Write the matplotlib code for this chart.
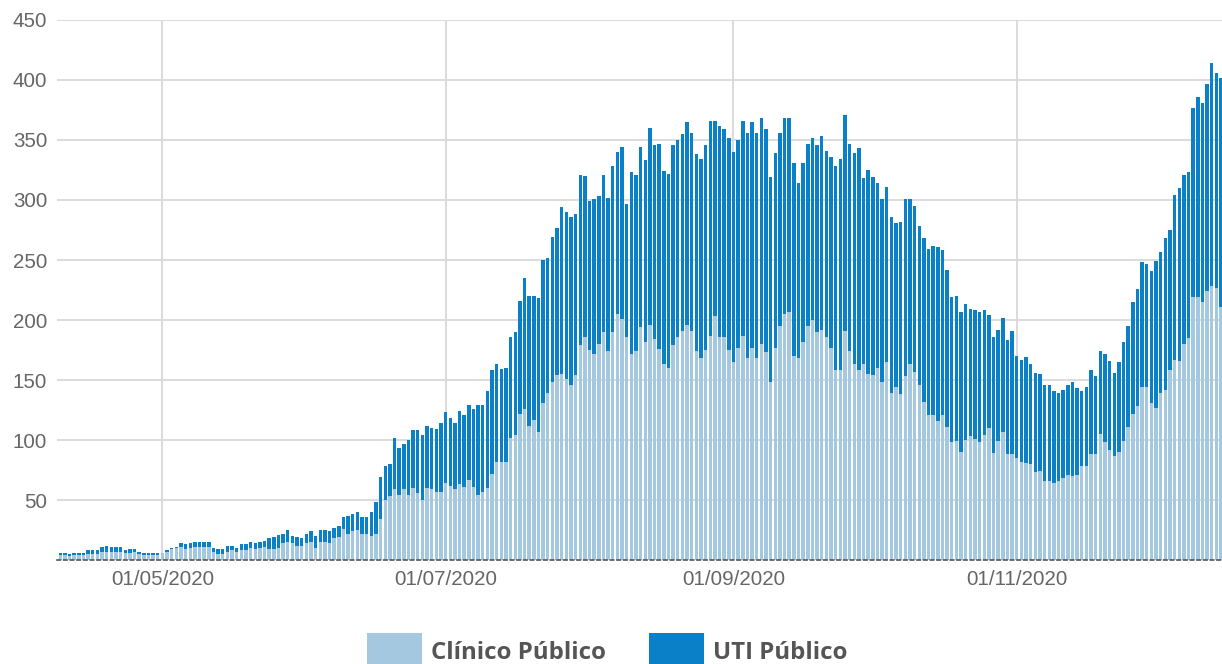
import matplotlib
matplotlib.use('Agg')
import matplotlib.pyplot as plt
import matplotlib.dates as mdates
import pandas as pd

# dias: 09/04/2020 a 15/12/2020
datas = pd.date_range('2020-04-09', '2020-12-15', freq='D')

clinico = [
    4, 4, 3, 4, 4, 4, 5, 5, 5, 7, 7, 7, 7, 7, 6, 6, 7, 5, 4, 4,
    4, 4, 6, 7, 9, 10, 11, 9, 10, 11, 11, 11, 11, 7, 5, 5, 7, 8, 7, 8,
    8, 10, 9, 10, 11, 9, 9, 10, 14, 15, 14, 12, 12, 14, 15, 10, 15, 15, 14, 18,
    19, 26, 22, 24, 25, 22, 22, 20, 22, 34, 50, 53, 59, 54, 59, 54, 60, 56, 50, 60,
    59, 57, 57, 64, 62, 59, 63, 61, 67, 61, 54, 57, 60, 72, 82, 82, 82, 102, 104, 122,
    126, 112, 117, 107, 131, 139, 148, 154, 155, 151, 146, 154, 179, 186, 175, 172, 180, 190, 174, 190,
    205, 201, 186, 172, 174, 194, 182, 196, 184, 176, 163, 160, 179, 186, 191, 196, 191, 174, 168, 175,
    187, 203, 186, 186, 175, 165, 177, 187, 168, 177, 168, 180, 173, 148, 177, 195, 205, 207, 170, 168,
    182, 195, 200, 190, 192, 186, 177, 158, 158, 191, 174, 163, 158, 163, 155, 154, 160, 148, 165, 139,
    144, 138, 153, 163, 157, 146, 132, 121, 121, 116, 121, 111, 98, 99, 90, 100, 103, 101, 98, 104,
    110, 89, 99, 107, 88, 88, 85, 82, 81, 80, 73, 74, 66, 66, 64, 66, 68, 71, 70, 71,
    78, 78, 88, 88, 105, 98, 92, 87, 90, 99, 111, 122, 128, 144, 144, 131, 127, 139, 142, 158,
    167, 166, 180, 185, 219, 219, 215, 224, 228, 227, 211,
]

uti = [
    2, 2, 2, 2, 2, 2, 3, 3, 3, 4, 5, 4, 4, 4, 2, 3, 2, 2, 2, 2,
    2, 2, 0, 1, 1, 1, 3, 4, 4, 4, 4, 4, 4, 3, 4, 4, 5, 4, 3, 5,
    5, 5, 5, 5, 5, 9, 10, 11, 8, 10, 6, 7, 6, 8, 9, 10, 10, 10, 10, 9,
    9, 10, 15, 14, 15, 14, 14, 20, 26, 35, 28, 27, 43, 39, 38, 46, 48, 52, 54, 52,
    51, 52, 57, 59, 56, 55, 61, 60, 62, 65, 75, 72, 81, 86, 81, 77, 78, 84, 86, 94,
    109, 108, 103, 111, 119, 113, 121, 123, 139, 139, 140, 134, 142, 134, 124, 129, 123, 131, 128, 138,
    135, 143, 111, 151, 147, 150, 151, 164, 162, 171, 161, 162, 167, 164, 164, 169, 165, 164, 166, 171,
    179, 163, 176, 173, 177, 175, 173, 179, 188, 188, 188, 188, 186, 171, 162, 161, 163, 161, 161, 146,
    149, 152, 152, 156, 161, 155, 159, 170, 176, 180, 173, 176, 185, 155, 170, 165, 154, 153, 146, 147,
    137, 144, 148, 138, 138, 132, 136, 138, 141, 145, 137, 131, 121, 121, 117, 113, 106, 107, 109, 104,
    94, 97, 93, 95, 95, 103, 85, 85, 88, 83, 83, 81, 80, 80, 77, 73, 74, 75, 78, 72,
    63, 66, 70, 65, 69, 74, 74, 69, 75, 83, 84, 93, 98, 104, 103, 110, 122, 118, 126, 117,
    137, 144, 141, 138, 158, 167, 166, 173, 186, 179, 191,
]

cor_clinico = '#a3c8e0'
cor_uti = '#0a80c9'

fig = plt.figure(figsize=(12.22, 6.64), dpi=100)
ax = fig.add_axes([0.0466, 0.1566, 0.9534, 0.8133])

ax.bar(datas, clinico, width=0.74, color=cor_clinico, label='Clínico Público', zorder=2)
ax.bar(datas, uti, width=0.74, bottom=clinico, color=cor_uti, label='UTI Público', zorder=2)

ax.set_ylim(0, 450)
ax.set_xlim(datas[0] - pd.Timedelta(hours=17), datas[-1] + pd.Timedelta(hours=5))
ax.set_yticks(range(50, 451, 50))
ax.set_xticks(pd.to_datetime(['2020-05-01', '2020-07-01', '2020-09-01', '2020-11-01']))
ax.xaxis.set_major_formatter(mdates.DateFormatter('%d/%m/%Y'))

ax.grid(True, color='#d9d9d9', linewidth=1.3, zorder=0)
ax.set_axisbelow(True)
for lado in ['top', 'right', 'left']:
    ax.spines[lado].set_visible(False)
ax.spines['bottom'].set_color('#555555')
ax.spines['bottom'].set_linestyle((0, (2, 2)))
ax.spines['bottom'].set_linewidth(1.2)
ax.spines['bottom'].set_zorder(3)

ax.tick_params(length=0, labelsize=14.8, labelcolor='#666666')
ax.tick_params(axis='y', pad=7)
ax.tick_params(axis='x', pad=7)
for t in ax.get_xticklabels() + ax.get_yticklabels():
    t.set_fontfamily('Liberation Sans')

leg = fig.legend(loc='center', bbox_to_anchor=(0.497, 0.0196), ncol=2, frameon=False,
                 prop={'family': 'Open Sans', 'weight': 'bold', 'size': 17.3},
                 handlelength=2.3, handleheight=1.95, handletextpad=0.36, columnspacing=1.8,
                 borderpad=0, borderaxespad=0)
for t in leg.get_texts():
    t.set_color('#555555')

fig.savefig('out.png', dpi=100)
